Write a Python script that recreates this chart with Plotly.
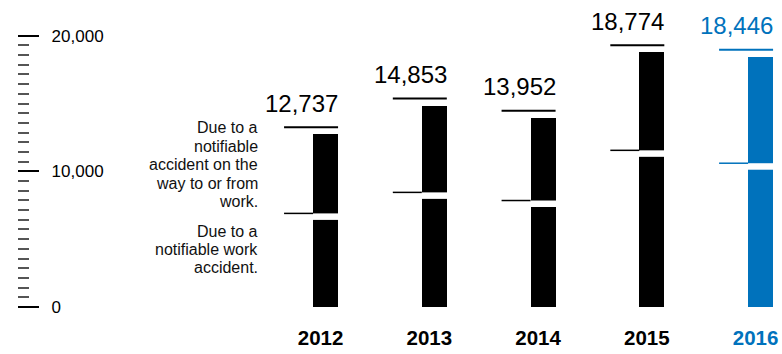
import plotly.graph_objects as go

# ---- data ----
years = ["2012", "2013", "2014", "2015", "2016"]
work_accidents = [6900, 8450, 7850, 11550, 10600]        # lower segment
commute_accidents = [5837, 6403, 6102, 7224, 7846]       # upper segment
totals = [12737, 14853, 13952, 18774, 18446]
total_labels = ["12,737", "14,853", "13,952", "18,774", "18,446"]
y_tick_vals = [0, 10000, 20000]
y_tick_text = ["0", "10,000", "20,000"]
commute_text = ["Due to a", "notifiable", "accident on the", "way to or from", "work."]
work_text = ["Due to a", "notifiable work", "accident."]

BLACK = "#000000"
BLUE = "#0072bc"
colors = [BLACK] * (len(years) - 1) + [BLUE]

W, H = 782, 354
BASE_PX = 306.7          # pixel row of value 0
BELOW_PX = 10            # room below zero inside the plot area
M_L, M_R, M_T = 18, 0, 10
M_B = H - BASE_PX - BELOW_PX
PLOT_H = H - M_T - M_B
PX_PER_1000 = 13.55
Y_MIN = -BELOW_PX / PX_PER_1000 * 1000
Y_MAX = (BASE_PX - M_T) / PX_PER_1000 * 1000
X_RANGE = [-2.828, 4.197]
BAR_W = 0.23
HALF_PX = 12.5

MINOR_STEP = 10000 / 14
minor_vals = [k * MINOR_STEP for k in range(1, 28) if k % 14 != 0]

idx = list(range(len(years)))

fig = go.Figure()
fig.add_bar(x=idx, y=work_accidents, width=BAR_W, marker_color=colors,
            marker_line_width=0, hoverinfo="skip")
fig.add_bar(x=idx, y=commute_accidents, width=BAR_W, marker_color=colors,
            marker_line_width=0, hoverinfo="skip")

shapes = []
annotations = []
for i in idx:
    c = colors[i]
    # white gap just below the split
    shapes.append(dict(type="rect", xref="x", yref="y", xsizemode="pixel", ysizemode="pixel",
                       xanchor=i, yanchor=work_accidents[i], x0=-HALF_PX - 1, x1=HALF_PX + 1,
                       y0=-6.5, y1=0, fillcolor="white", line_width=0, layer="above"))
    # split marker line to the left
    shapes.append(dict(type="line", xref="x", yref="y", xsizemode="pixel", ysizemode="pixel",
                       xanchor=i, yanchor=work_accidents[i], x0=-HALF_PX - 29, x1=-HALF_PX,
                       y0=0, y1=0, line=dict(color=c, width=1.5), layer="above"))
    # total line above bar
    shapes.append(dict(type="line", xref="x", yref="y", xsizemode="pixel", ysizemode="pixel",
                       xanchor=i, yanchor=totals[i], x0=-HALF_PX - 29, x1=HALF_PX,
                       y0=7, y1=7, line=dict(color=c, width=2), layer="above"))
    annotations.append(dict(x=i, y=totals[i], xref="x", yref="y", text=total_labels[i],
                            showarrow=False, xanchor="right", yanchor="bottom",
                            xshift=HALF_PX + 2, yshift=15.5,
                            font=dict(family="Liberation Sans, Arial", size=24, color=c)))


def py_to_paper(py):
    return (H - M_B - py) / PLOT_H


TEXT_RIGHT = (259.5 - M_L) / (W - M_L - M_R)
for k, line in enumerate(commute_text):
    annotations.append(dict(x=TEXT_RIGHT, y=py_to_paper(127.8 + 18.35 * k), xref="paper", yref="paper",
                            text=line, showarrow=False, xanchor="right", yanchor="middle",
                            font=dict(family="Liberation Sans, Arial", size=16, color="#111111")))
for k, line in enumerate(work_text):
    annotations.append(dict(x=TEXT_RIGHT, y=py_to_paper(231.2 + 18.0 * k), xref="paper", yref="paper",
                            text=line, showarrow=False, xanchor="right", yanchor="middle",
                            font=dict(family="Liberation Sans, Arial", size=16, color="#111111")))

tick_text_x = [f'<b><span style="color:{colors[i]}">{y}</span></b>' for i, y in enumerate(years)]

fig.update_layout(
    width=W, height=H,
    margin=dict(l=M_L, r=M_R, t=M_T, b=M_B, pad=0, autoexpand=False),
    barmode="stack",
    bargap=0,
    showlegend=False,
    plot_bgcolor="white",
    paper_bgcolor="white",
    shapes=shapes,
    annotations=annotations,
    xaxis=dict(range=X_RANGE, tickvals=idx, ticktext=tick_text_x, showline=False,
               showgrid=False, zeroline=False, ticks="", ticklabelshift=-5,
               ticklabelstandoff=6, automargin=False,
               tickfont=dict(family="Liberation Sans, Arial", size=20.5, color=BLACK)),
    yaxis=dict(range=[Y_MIN, Y_MAX], tickvals=y_tick_vals, ticktext=y_tick_text,
               showline=False, showgrid=False, zeroline=False, automargin=False,
               ticks="inside", ticklen=21, tickwidth=1.5, tickcolor=BLACK,
               ticklabelposition="inside", ticklabelstandoff=13,
               tickfont=dict(family="Liberation Sans, Arial", size=17, color=BLACK),
               minor=dict(ticks="inside", ticklen=11, tickwidth=2, tickcolor="#555555",
                          tickmode="array", tickvals=minor_vals, showgrid=False)),
)

fig.write_html("out.html", config={"displayModeBar": False},
               post_script="document.body.style.margin='0';document.body.style.overflow='hidden';")
